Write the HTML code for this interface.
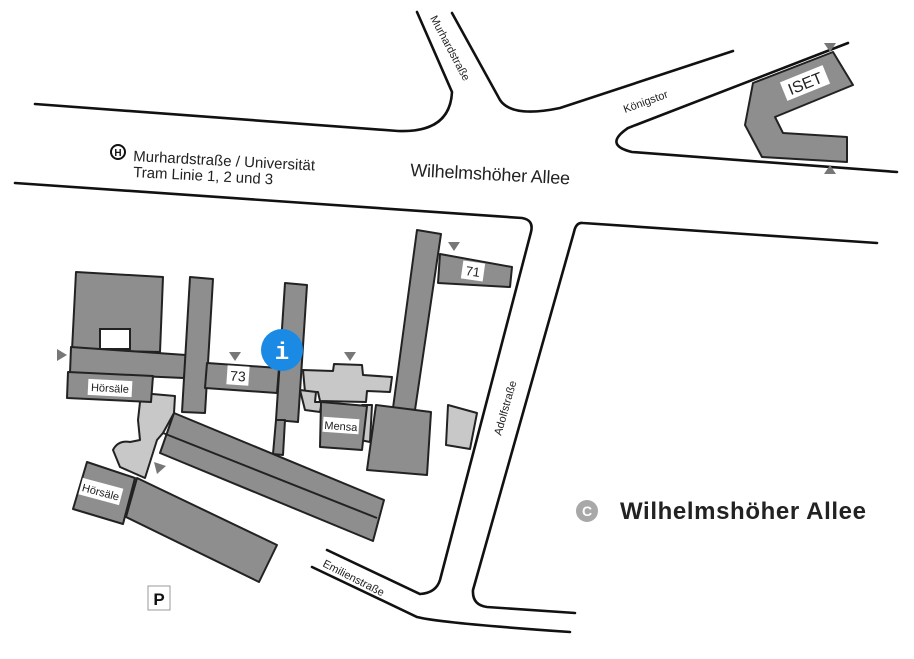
<!DOCTYPE html>
<html><head><meta charset="utf-8"><style>
html,body{margin:0;padding:0;background:#fff;}
svg{display:block;font-family:"Liberation Sans",sans-serif;}
</style></head><body>
<svg width="914" height="659" viewBox="0 0 914 659" xmlns="http://www.w3.org/2000/svg">
<rect width="914" height="659" fill="#fff"/>
<g fill="none" stroke="#111" stroke-width="2.6" stroke-linecap="round">
<path d="M35,104 L398,131 Q450,133 452,92 L417,12"/>
<path d="M452,13 L500,100 Q512,118 560,108 L733,51"/>
<path d="M848,43 L628,128 Q603,145 632,152 L897,172"/>
<path d="M15,183 L522,218 Q534,220 531,232 L440,580 Q436,593 420,594 L327,550"/>
<path d="M312,567 L417,617 Q440,623 570,632"/>
<path d="M877,243 L583,223 Q576,222 574,232 L473,590 Q472,605 487,607 L575,613"/>
</g>
<g stroke="#222" stroke-width="2" stroke-linejoin="round">
<g fill="#c8c8c8">
<path d="M303,370 L333,371 L334,364 L362,365 L363,375 L392,377 L390,392 L367,391 L366,402 L320,401 L318,392 L305,392 Z"/>
<path d="M300,390 L316,392 L315,402 L322,402 L320,412 L305,410 Z"/>
<path d="M141,393 L175,396 L174,413 L163,433 L157,440 L145,478 L120,467 L113,450 Q118,440 130,442 L140,440 L138,420 Z"/>
<path d="M362,405 L372,405 L370,442 L360,440 Z"/>
<path d="M448,405 L477,413 L470,449 L446,445 Z"/>
</g>
<g fill="#8e8e8e">
<path d="M76,272 L163,277 L160,352 L72,350 Z"/>
<path d="M71,347 L186,355 L184,378 L70,373 Z"/>
<path d="M68,372 L153,376 L151,402 L67,398 Z"/>
<path d="M190,277 L213,279 L205,413 L182,412 Z"/>
<path d="M207,363 L279,368 L277,393 L205,388 Z"/>
<path d="M285,283 L307,285 L298,422 L276,420 Z"/>
<path d="M276,420 L285,420 L283,455 L273,454 Z"/>
<path d="M417,230 L441,234 L415,410 L393,408 Z"/>
<path d="M440,254 L512,267 L510,287 L438,283 Z"/>
<path d="M321,402 L367,406 L362,450 L320,447 Z"/>
<path d="M376,405 L431,412 L427,475 L367,470 Z"/>
<path d="M174,413 L384,500 L373,541 L160,453 Z"/>
<path d="M137,478 L277,545 L259,582 L126,517 Z"/>
<path d="M87,462 L135,478 L123,524 L73,509 Z"/>
<path d="M833,52 L853,85 L775,117 L783,133 L847,137 L847,162 L762,157 L745,125 L753,83 Z"/>
</g>
<line x1="163" y1="433" x2="377" y2="518"/>
</g>
<rect x="100" y="329" width="30" height="20" fill="#fff" stroke="#222" stroke-width="2"/>
<g fill="#fff">
<rect x="88" y="380" width="44" height="16" transform="rotate(3 110 388)"/>
<rect x="80" y="483" width="42" height="17" transform="rotate(15 101 491)"/>
<rect x="227" y="366" width="22" height="19" transform="rotate(4 238 375)"/>
<rect x="323" y="418" width="36" height="15" transform="rotate(4 341 425)"/>
<rect x="462" y="262" width="22" height="18" transform="rotate(8 473 271)"/>
<rect x="782" y="73" width="46" height="20" transform="rotate(-22 805 83)"/>
</g>
<g fill="#222" font-size="11">
<text x="110" y="392" text-anchor="middle" transform="rotate(3 110 388)">Hörsäle</text>
<text x="101" y="496" text-anchor="middle" transform="rotate(15 101 491)">Hörsäle</text>
<text x="238" y="381" text-anchor="middle" font-size="14" transform="rotate(4 238 375)">73</text>
<text x="341" y="430" text-anchor="middle" transform="rotate(4 341 425)">Mensa</text>
<text x="473" y="276" text-anchor="middle" font-size="13" transform="rotate(8 473 271)">71</text>
<text x="805" y="89" text-anchor="middle" font-size="16" transform="rotate(-22 805 83)">ISET</text>
<text x="0" y="0" font-size="11" transform="translate(430,18) rotate(62)">Murhardstraße</text>
<text x="0" y="0" font-size="11" transform="translate(625,113) rotate(-20)">Königstor</text>
<text x="0" y="0" font-size="11" transform="translate(501,436) rotate(-74)">Adolfstraße</text>
<text x="0" y="0" font-size="11" transform="translate(322,566) rotate(27)">Emilienstraße</text>
<text x="133" y="161" font-size="15" textLength="182" transform="rotate(3 133 161)">Murhardstraße / Universität</text>
<text x="133" y="177" font-size="15" textLength="140" transform="rotate(3 133 177)">Tram Linie 1, 2 und 3</text>
<text x="410" y="176" font-size="18" textLength="160" transform="rotate(3 410 176)">Wilhelmshöher Allee</text>
<text x="620" y="519" font-size="24" font-weight="bold" textLength="246">Wilhelmshöher Allee</text>
</g>
<circle cx="118" cy="152" r="7" fill="#fff" stroke="#111" stroke-width="2"/>
<text x="118" y="156" font-size="10" font-weight="bold" text-anchor="middle" fill="#111">H</text>
<circle cx="587" cy="511" r="11" fill="#a8a8a8"/>
<text x="587" y="516" font-size="14" font-weight="bold" text-anchor="middle" fill="#fff">C</text>
<rect x="148" y="586" width="22" height="24" fill="#fff" stroke="#999" stroke-width="1"/>
<text x="159" y="605" font-size="17" font-weight="bold" text-anchor="middle" fill="#111">P</text>
<circle cx="282" cy="350" r="21" fill="#1a8ae5"/>
<text x="282" y="359" font-size="24" font-weight="bold" text-anchor="middle" fill="#fff" font-family="Liberation Mono,monospace">i</text>
<g fill="#777">
<path d="M229,352 L241,352 L235,361 Z"/>
<path d="M344,352 L356,352 L350,361 Z"/>
<path d="M448,242 L460,242 L454,251 Z"/>
<path d="M824,43 L836,43 L830,52 Z"/>
<path d="M824,174 L836,174 L830,165 Z"/>
<path d="M57,349 L57,361 L67,355 Z"/>
<path d="M154,462 L166,466 L157,474 Z"/>
</g>
</svg>
</body></html>
